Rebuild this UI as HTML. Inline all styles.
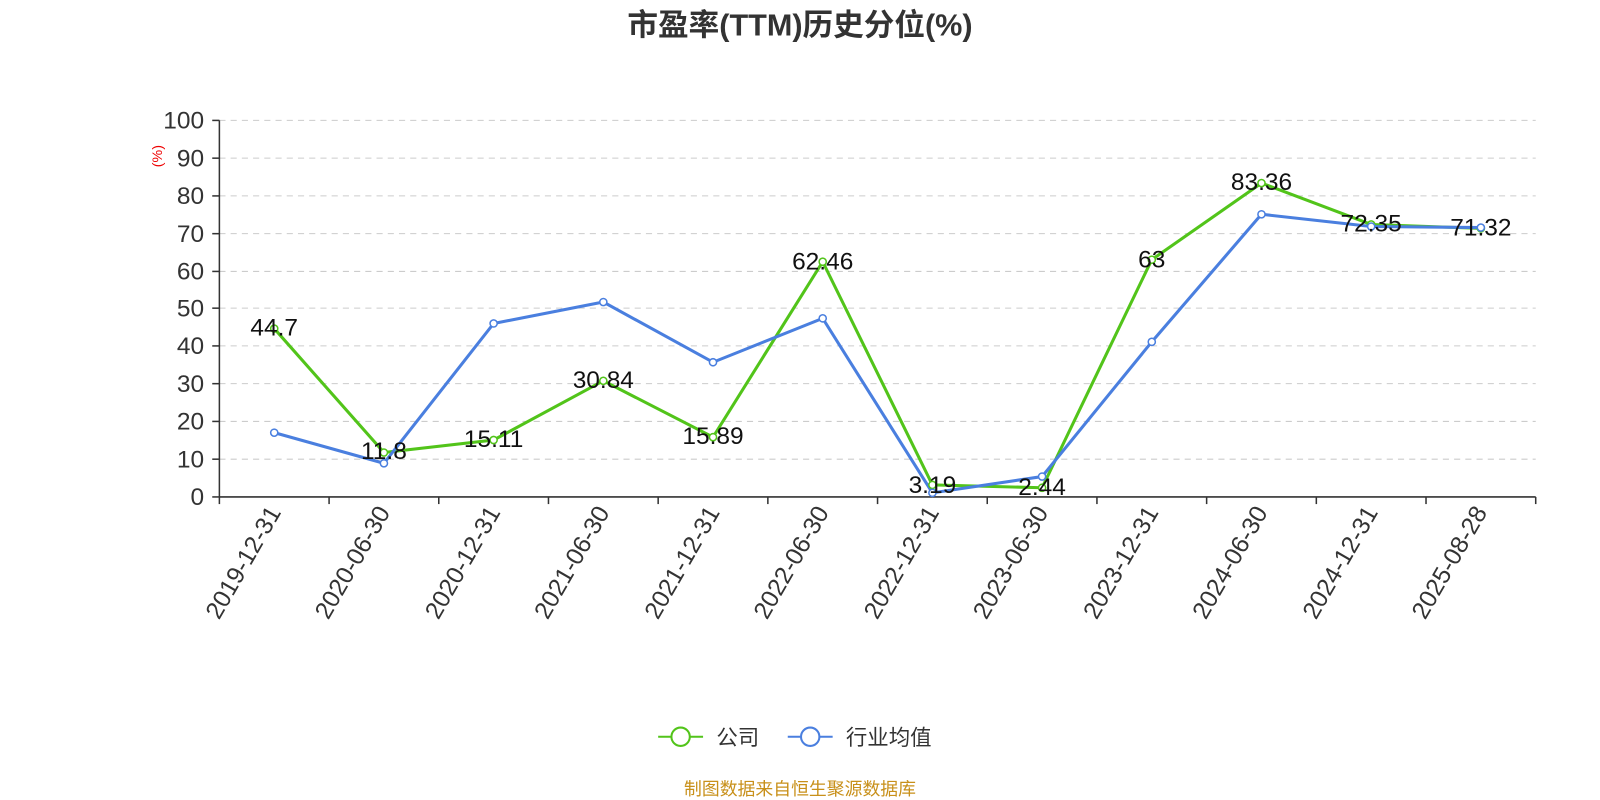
<!DOCTYPE html>
<html><head><meta charset="utf-8"><style>
html,body{margin:0;padding:0;background:#fff;}
svg{display:block;font-family:"Liberation Sans","Noto Sans CJK SC",sans-serif;}
</style></head><body>
<svg width="1600" height="800" viewBox="0 0 1568 784" preserveAspectRatio="none" xmlns="http://www.w3.org/2000/svg">
<text x="784" y="35" text-anchor="middle" font-size="30" font-weight="bold" fill="#333">市盈率(TTM)历史分位(%)</text>
<g stroke="#ccc" stroke-dasharray="6,5" stroke-width="1">
<line x1="215" x2="1505" y1="118" y2="118"/><line x1="215" x2="1505" y1="155" y2="155"/>
<line x1="215" x2="1505" y1="192" y2="192"/><line x1="215" x2="1505" y1="229" y2="229"/>
<line x1="215" x2="1505" y1="266" y2="266"/><line x1="215" x2="1505" y1="302" y2="302"/>
<line x1="215" x2="1505" y1="339" y2="339"/><line x1="215" x2="1505" y1="376" y2="376"/>
<line x1="215" x2="1505" y1="413" y2="413"/><line x1="215" x2="1505" y1="450" y2="450"/>
</g>
<g stroke="#333" stroke-width="1.5">
<line x1="215" x2="215" y1="118" y2="487"/><line x1="215" x2="1505" y1="487" y2="487"/>
<line x1="208" x2="215" y1="118" y2="118"/><line x1="208" x2="215" y1="155" y2="155"/><line x1="208" x2="215" y1="192" y2="192"/><line x1="208" x2="215" y1="229" y2="229"/><line x1="208" x2="215" y1="266" y2="266"/><line x1="208" x2="215" y1="302" y2="302"/><line x1="208" x2="215" y1="339" y2="339"/><line x1="208" x2="215" y1="376" y2="376"/><line x1="208" x2="215" y1="413" y2="413"/><line x1="208" x2="215" y1="450" y2="450"/><line x1="208" x2="215" y1="487" y2="487"/>
<line x1="215" x2="215" y1="487" y2="494"/><line x1="322.5" x2="322.5" y1="487" y2="494"/><line x1="430" x2="430" y1="487" y2="494"/><line x1="537.5" x2="537.5" y1="487" y2="494"/><line x1="645" x2="645" y1="487" y2="494"/><line x1="752.5" x2="752.5" y1="487" y2="494"/><line x1="860" x2="860" y1="487" y2="494"/><line x1="967.5" x2="967.5" y1="487" y2="494"/><line x1="1075" x2="1075" y1="487" y2="494"/><line x1="1182.5" x2="1182.5" y1="487" y2="494"/><line x1="1290" x2="1290" y1="487" y2="494"/><line x1="1397.5" x2="1397.5" y1="487" y2="494"/><line x1="1505" x2="1505" y1="487" y2="494"/>
</g>
<g font-size="24" fill="#333" text-anchor="end">
<text x="200" y="126">100</text><text x="200" y="163">90</text><text x="200" y="200">80</text><text x="200" y="237">70</text><text x="200" y="274">60</text><text x="200" y="310">50</text><text x="200" y="347">40</text><text x="200" y="384">30</text><text x="200" y="421">20</text><text x="200" y="458">10</text><text x="200" y="495">0</text>
</g>
<text transform="translate(159,153) rotate(-90)" text-anchor="middle" font-size="14" fill="#e00">(%)</text>
<g font-size="24" fill="#333" text-anchor="end">
<text transform="translate(276,502) rotate(-60)">2019-12-31</text>
<text transform="translate(383,502) rotate(-60)">2020-06-30</text>
<text transform="translate(491,502) rotate(-60)">2020-12-31</text>
<text transform="translate(598,502) rotate(-60)">2021-06-30</text>
<text transform="translate(706,502) rotate(-60)">2021-12-31</text>
<text transform="translate(813,502) rotate(-60)">2022-06-30</text>
<text transform="translate(921,502) rotate(-60)">2022-12-31</text>
<text transform="translate(1028,502) rotate(-60)">2023-06-30</text>
<text transform="translate(1136,502) rotate(-60)">2023-12-31</text>
<text transform="translate(1243,502) rotate(-60)">2024-06-30</text>
<text transform="translate(1351,502) rotate(-60)">2024-12-31</text>
<text transform="translate(1458,502) rotate(-60)">2025-08-28</text>
</g>
<polyline fill="none" stroke="#52c41a" stroke-width="3" points="268.75,322 376.25,443.5 483.75,431.2 591.25,373.2 698.75,428.4 806.25,256.5 913.75,475.2 1021.25,478 1128.75,254.5 1236.25,179.4 1343.75,220 1451.25,223.8"/>
<polyline fill="none" stroke="#4a7fdf" stroke-width="3" points="268.75,424 376.25,454 483.75,317 591.25,296 698.75,355 806.25,312 913.75,483 1021.25,467 1128.75,335 1236.25,210 1343.75,222 1451.25,223"/>
<g fill="#fff" stroke="#52c41a" stroke-width="1.5">
<circle cx="268.75" cy="322" r="3.5"/><circle cx="376.25" cy="443.5" r="3.5"/><circle cx="483.75" cy="431.2" r="3.5"/><circle cx="591.25" cy="373.2" r="3.5"/><circle cx="698.75" cy="428.4" r="3.5"/><circle cx="806.25" cy="256.5" r="3.5"/><circle cx="913.75" cy="475.2" r="3.5"/><circle cx="1021.25" cy="478" r="3.5"/><circle cx="1128.75" cy="254.5" r="3.5"/><circle cx="1236.25" cy="179.4" r="3.5"/><circle cx="1343.75" cy="220" r="3.5"/><circle cx="1451.25" cy="223.8" r="3.5"/>
</g>
<g fill="#fff" stroke="#4a7fdf" stroke-width="1.5">
<circle cx="268.75" cy="424" r="3.5"/><circle cx="376.25" cy="454" r="3.5"/><circle cx="483.75" cy="317" r="3.5"/><circle cx="591.25" cy="296" r="3.5"/><circle cx="698.75" cy="355" r="3.5"/><circle cx="806.25" cy="312" r="3.5"/><circle cx="913.75" cy="483" r="3.5"/><circle cx="1021.25" cy="467" r="3.5"/><circle cx="1128.75" cy="335" r="3.5"/><circle cx="1236.25" cy="210" r="3.5"/><circle cx="1343.75" cy="222" r="3.5"/><circle cx="1451.25" cy="223" r="3.5"/>
</g>
<g font-size="24" fill="#111" text-anchor="middle">
<text x="268.75" y="329">44.7</text><text x="376.25" y="450">11.8</text><text x="483.75" y="438">15.11</text><text x="591.25" y="380">30.84</text><text x="698.75" y="435">15.89</text><text x="806.25" y="264">62.46</text><text x="913.75" y="483">3.19</text><text x="1021.25" y="485">2.44</text><text x="1128.75" y="262">63</text><text x="1236.25" y="186">83.36</text><text x="1343.75" y="227">72.35</text><text x="1451.25" y="231">71.32</text>
</g>
<line x1="645" x2="689" y1="722" y2="722" stroke="#52c41a" stroke-width="2"/>
<circle cx="667" cy="722" r="9" fill="#fff" stroke="#52c41a" stroke-width="2"/>
<text x="702" y="730" font-size="21" fill="#333">公司</text>
<line x1="772" x2="816" y1="722" y2="722" stroke="#4a7fdf" stroke-width="2"/>
<circle cx="794" cy="722" r="9" fill="#fff" stroke="#4a7fdf" stroke-width="2"/>
<text x="829" y="730" font-size="21" fill="#333">行业均值</text>
<text x="784" y="779" text-anchor="middle" font-size="17.5" fill="#c8901a">制图数据来自恒生聚源数据库</text>
</svg>
</body></html>
